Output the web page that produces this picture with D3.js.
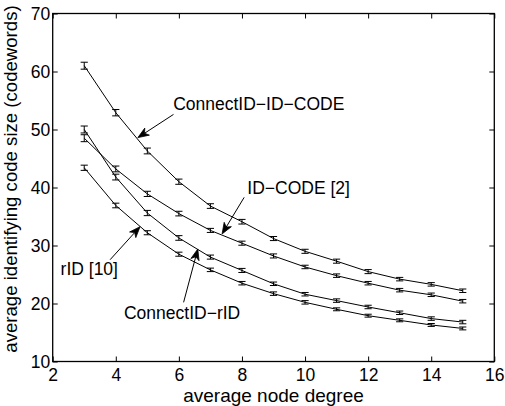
<!DOCTYPE html>
<html>
<head>
<meta charset="utf-8">
<script src="https://cdn.jsdelivr.net/npm/d3@7"></script>
<style>
  html, body { margin: 0; padding: 0; background: #fff; }
  svg { display: block; }
  text { font-family: "Liberation Sans", Arial, Helvetica, sans-serif; fill: #000; }
</style>
</head>
<body>
<svg id="chart" width="505" height="406"></svg>
<script>
// ---------- data ----------
const xValues = [3, 4, 5, 6, 7, 8, 9, 10, 11, 12, 13, 14, 15];
const connectIdCode = [61.0, 52.9, 46.3, 41.0, 36.8, 34.1, 31.2, 29.0, 27.3, 25.5, 24.2, 23.3, 22.2];
const idCode        = [48.5, 43.2, 38.9, 35.5, 32.6, 30.4, 28.2, 26.3, 24.8, 23.5, 22.3, 21.5, 20.4];
const connectIdRid  = [50.0, 41.8, 35.6, 31.3, 28.0, 25.7, 23.4, 21.6, 20.5, 19.4, 18.4, 17.4, 16.8];
const rid           = [43.4, 36.9, 32.2, 28.5, 25.8, 23.5, 21.7, 20.2, 19.0, 17.9, 17.1, 16.3, 15.7];
const errConnectIdCode = [0.6, 0.55, 0.5, 0.45, 0.4, 0.4, 0.35, 0.35, 0.35, 0.35, 0.3, 0.3, 0.3];
const errIdCode        = [0.6, 0.5, 0.45, 0.4, 0.35, 0.35, 0.35, 0.3, 0.3, 0.3, 0.3, 0.3, 0.3];
const errConnectIdRid  = [0.6, 0.5, 0.45, 0.4, 0.35, 0.35, 0.3, 0.3, 0.3, 0.3, 0.3, 0.3, 0.3];
const errRid           = [0.45, 0.4, 0.35, 0.35, 0.3, 0.3, 0.3, 0.3, 0.25, 0.25, 0.25, 0.25, 0.25];
const xTicks = [2, 4, 6, 8, 10, 12, 14, 16];
const yTicks = [10, 20, 30, 40, 50, 60, 70];
const xLabel = "average node degree";
const yLabel = "average identifying code size (codewords)";
// annotation labels (text anchor in data units, arrow tail -> tip in data units)
const annLabels = ["ConnectID−ID−CODE", "ID−CODE [2]", "rID [10]", "ConnectID−rID"];
const annText   = [[5.82, 53.3], [8.17, 38.96], [2.25, 24.95], [4.26, 17.35]];
const annTail   = [[5.83, 52.6], [8.07, 38.3], [3.82, 27.55], [6.15, 20.2]];
const annTip    = [[4.70, 48.6], [7.37, 32.0], [4.77, 33.25], [6.60, 29.4]];

const seriesList = [
  { values: connectIdCode, err: errConnectIdCode },
  { values: idCode, err: errIdCode },
  { values: connectIdRid, err: errConnectIdRid },
  { values: rid, err: errRid }
];

// ---------- layout ----------
const svg = d3.select("#chart");
const plotLeft = 52.7, plotRight = 494.3, plotTop = 13.5, plotBottom = 361.5;
const x = d3.scaleLinear().domain([2, 16]).range([plotLeft, plotRight]);
const y = d3.scaleLinear().domain([10, 70]).range([plotBottom, plotTop]);
const tickLen = 5;

// axes (ticks inward on all four sides)
const gx = svg.append("g").attr("transform", `translate(0,${plotBottom})`)
  .call(d3.axisBottom(x).tickValues(xTicks).tickSize(-tickLen).tickPadding(8).tickFormat(d3.format("d")));
const gxTop = svg.append("g").attr("transform", `translate(0,${plotTop})`)
  .call(d3.axisTop(x).tickValues(xTicks).tickSize(-tickLen).tickFormat(""));
const gy = svg.append("g").attr("transform", `translate(${plotLeft},0)`)
  .call(d3.axisLeft(y).tickValues(yTicks).tickSize(-tickLen).tickPadding(3).tickFormat(d3.format("d")));
const gyRight = svg.append("g").attr("transform", `translate(${plotRight},0)`)
  .call(d3.axisRight(y).tickValues(yTicks).tickSize(-tickLen).tickFormat(""));

[gx, gxTop, gy, gyRight].forEach(g => {
  g.select(".domain").remove();
  g.selectAll(".tick line").attr("stroke", "#000").attr("stroke-width", 1);
  g.selectAll(".tick text").attr("font-size", 17.5).attr("font-family", "Liberation Sans, Arial, sans-serif").attr("fill", "#000");
});
gx.selectAll(".tick text").attr("dy", null).attr("y", 19);
gy.selectAll(".tick text").attr("x", -2.5);

// box
svg.append("rect")
  .attr("x", plotLeft).attr("y", plotTop)
  .attr("width", plotRight - plotLeft).attr("height", plotBottom - plotTop)
  .attr("fill", "none").attr("stroke", "#000").attr("stroke-width", 1.3);

// axis titles
svg.append("text")
  .attr("x", (plotLeft + plotRight) / 2).attr("y", 402)
  .attr("text-anchor", "middle").attr("font-size", 19)
  .text(xLabel);
svg.append("text")
  .attr("transform", `translate(16.5,179) rotate(-90)`)
  .attr("text-anchor", "middle").attr("font-size", 18.6)
  .text(yLabel);

// series lines + error bars
const line = d3.line().x((d, i) => x(xValues[i])).y(d => y(d));
const capHalf = 3.6;
seriesList.forEach(s => {
  svg.append("path")
    .attr("d", line(s.values))
    .attr("fill", "none").attr("stroke", "#000").attr("stroke-width", 1);
  const g = svg.append("g");
  s.values.forEach((v, i) => {
    const cx = x(xValues[i]);
    const y1 = y(v + s.err[i]), y0 = y(v - s.err[i]);
    g.append("line").attr("x1", cx).attr("x2", cx).attr("y1", y1).attr("y2", y0)
      .attr("stroke", "#000").attr("stroke-width", 1);
    g.append("line").attr("x1", cx - capHalf).attr("x2", cx + capHalf).attr("y1", y1).attr("y2", y1)
      .attr("stroke", "#000").attr("stroke-width", 1);
    g.append("line").attr("x1", cx - capHalf).attr("x2", cx + capHalf).attr("y1", y0).attr("y2", y0)
      .attr("stroke", "#000").attr("stroke-width", 1);
  });
});

// annotations
annLabels.forEach((label, i) => {
  svg.append("text")
    .attr("x", x(annText[i][0])).attr("y", y(annText[i][1]))
    .attr("font-size", 17.5)
    .text(label);
  const tx = x(annTail[i][0]), ty = y(annTail[i][1]);
  const px = x(annTip[i][0]), py = y(annTip[i][1]);
  const dx = px - tx, dy = py - ty;
  const len = Math.hypot(dx, dy);
  const ux = dx / len, uy = dy / len;
  const nx = -uy, ny = ux;
  const headLen = 11, headHalf = 4.2, notch = 3;
  svg.append("line")
    .attr("x1", tx).attr("y1", ty)
    .attr("x2", px - ux * (headLen - notch)).attr("y2", py - uy * (headLen - notch))
    .attr("stroke", "#000").attr("stroke-width", 1);
  const bx = px - ux * headLen, by = py - uy * headLen;
  const mx = px - ux * (headLen - notch), my = py - uy * (headLen - notch);
  const pts = [
    [px, py],
    [bx + nx * headHalf, by + ny * headHalf],
    [mx, my],
    [bx - nx * headHalf, by - ny * headHalf]
  ];
  svg.append("path")
    .attr("d", "M" + pts.map(p => p.join(",")).join("L") + "Z")
    .attr("fill", "#000").attr("stroke", "#000").attr("stroke-width", 0.8);
});
</script>
</body>
</html>
